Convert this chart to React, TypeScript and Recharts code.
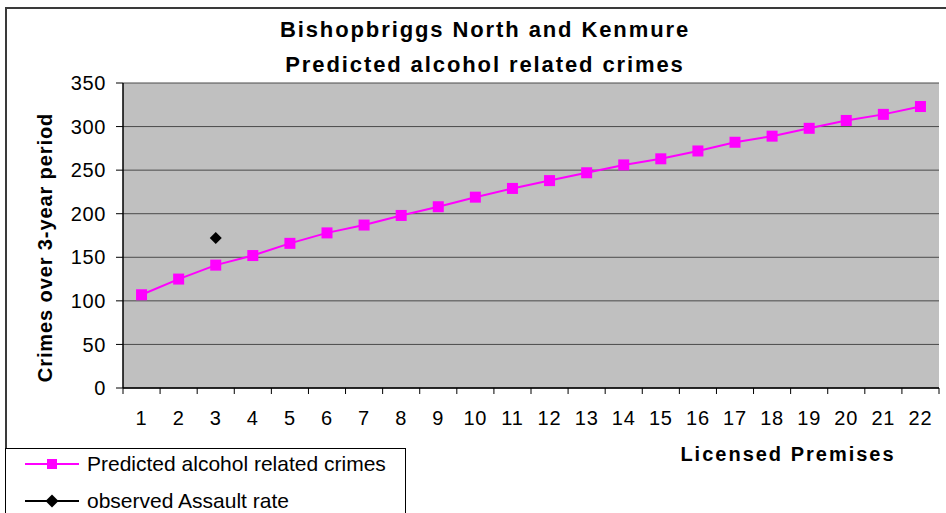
import { CartesianGrid, Legend, Line, LineChart, XAxis, YAxis } from "recharts";

const premises = ["1", "2", "3", "4", "5", "6", "7", "8", "9", "10", "11", "12", "13", "14", "15", "16", "17", "18", "19", "20", "21", "22"];
const predicted = [107, 125, 141, 152, 166, 178, 187, 198, 208, 219, 229, 238, 247, 256, 263, 272, 282, 289, 298, 307, 314, 323];
const observed = [null, null, 172, null, null, null, null, null, null, null, null, null, null, null, null, null, null, null, null, null, null, null];
const yTicks = [0, 50, 100, 150, 200, 250, 300, 350];

const W = 946;
const H = 513;
const FONT = "'Liberation Sans', Arial, sans-serif";
const PLOT_W = 816;
const HALF_BAND = PLOT_W / premises.length / 2;

const data = premises.map((p, i) => ({ premises: p, predicted: predicted[i], observed: observed[i] }));

function XTick(props: any) {
  const { x, y, payload, index } = props;
  const axisY = y - 6;
  return (
    <g>
      <line x1={x - HALF_BAND} x2={x - HALF_BAND} y1={axisY} y2={axisY + 6} stroke="#000" />
      {index === premises.length - 1 && (
        <line x1={x + HALF_BAND} x2={x + HALF_BAND} y1={axisY} y2={axisY + 6} stroke="#000" />
      )}
      <text x={x} y={axisY + 37} textAnchor="middle" fontSize={20} letterSpacing={0.8} fill="#000" fontFamily={FONT}>
        {payload.value}
      </text>
    </g>
  );
}

function Square(props: any) {
  const { cx, cy, index } = props;
  if (cx == null || cy == null) return <g key={index} />;
  return <rect key={index} x={cx - 5.5} y={cy - 5.5} width={11} height={11} fill="#FF00FF" />;
}

function Diamond(props: any) {
  const { cx, cy, index } = props;
  if (cx == null || cy == null) return <g key={index} />;
  return <path key={index} d={`M${cx},${cy - 6}L${cx + 6},${cy}L${cx},${cy + 6}L${cx - 6},${cy}Z`} fill="#000" />;
}

function LegendBox() {
  const row = (top: number, label: string, color: string, marker: any) => (
    <div style={{ position: "absolute", left: 0, top, height: 30, display: "flex", alignItems: "center" }}>
      <svg width={60} height={20} style={{ marginLeft: 17, marginRight: 4 }}>
        <line x1={2} x2={56} y1={10} y2={10} stroke={color} strokeWidth={2} />
        {marker}
      </svg>
      <span style={{ fontSize: 21, color: "#000", whiteSpace: "nowrap" }}>{label}</span>
    </div>
  );
  return (
    <div
      style={{
        position: "relative",
        boxSizing: "border-box",
        width: 401,
        height: 70,
        borderTop: "1px solid #000",
        borderLeft: "1px solid #000",
        borderRight: "1px solid #000",
        background: "#fff",
        fontFamily: FONT,
      }}
    >
      {row(0, "Predicted alcohol related crimes", "#FF00FF", <rect x={24} y={5} width={10} height={10} fill="#FF00FF" />)}
      {row(37, "observed Assault rate", "#000", <path d="M29,3.5L35.5,10L29,16.5L22.5,10Z" fill="#000" />)}
    </div>
  );
}

export default function App() {
  return (
    <div style={{ position: "absolute", left: 0, top: 0, width: W, height: H, overflow: "hidden", background: "#fff", fontFamily: FONT }}>
      <div style={{ position: "absolute", left: 5, top: 7, width: W, height: H, border: "2px solid #3a3a3a" }} />
      <div
        style={{
          position: "absolute",
          left: 0,
          width: W,
          top: 12,
          textAlign: "center",
          fontSize: 22,
          fontWeight: "bold",
          letterSpacing: 1.9,
          lineHeight: "35px",
          paddingLeft: 24,
          boxSizing: "border-box",
        }}
      >
        <div>Bishopbriggs North and Kenmure</div>
        <div>Predicted alcohol related crimes</div>
      </div>
      <LineChart width={W} height={H} data={data} margin={{ top: 83, right: 7, bottom: 0, left: 0 }}>
        <CartesianGrid fill="#C0C0C0" stroke="#4a4a4a" vertical={false} />
        <XAxis
          dataKey="premises"
          scale="band"
          height={55}
          interval={0}
          tickSize={6}
          tickMargin={0}
          tickLine={false}
          axisLine={{ stroke: "#000", strokeWidth: 1.5 }}
          tick={<XTick />}
          label={{
            content: (p: any) => {
              const vb = p.viewBox;
              return (
                <text
                  x={vb.x + vb.width - 151}
                  y={vb.y + 73}
                  textAnchor="middle"
                  fontSize={20}
                  fontWeight="bold"
                  letterSpacing={2}
                  fontFamily={FONT}
                  fill="#000"
                >
                  Licensed Premises
                </text>
              );
            },
          }}
        />
        <XAxis xAxisId="top" orientation="top" height={0} tick={false} tickLine={false} axisLine={{ stroke: "#8a8a8a", strokeWidth: 2 }} />
        <YAxis
          width={123}
          domain={[0, 350]}
          ticks={yTicks}
          interval={0}
          tickSize={7}
          tickMargin={10}
          axisLine={{ stroke: "#000", strokeWidth: 1.5 }}
          tickLine={{ stroke: "#000" }}
          tick={{ fontSize: 20, fill: "#000", fontFamily: FONT, letterSpacing: 0.6 }}
          label={{
            content: (p: any) => {
              const vb = p.viewBox;
              const cx = 45;
              const cy = vb.y + vb.height / 2 + 12;
              return (
                <text
                  x={cx}
                  y={cy}
                  transform={`rotate(-90 ${cx} ${cy})`}
                  textAnchor="middle"
                  dominantBaseline="central"
                  fontSize={20}
                  fontWeight="bold"
                  letterSpacing={0.9}
                  fontFamily={FONT}
                  fill="#000"
                >
                  Crimes over 3-year period
                </text>
              );
            },
          }}
        />
        <YAxis yAxisId="right" orientation="right" width={0} tick={false} tickLine={false} axisLine={{ stroke: "#8a8a8a", strokeWidth: 2 }} />
        <Legend
          content={() => <LegendBox />}
          wrapperStyle={{ left: 5, top: 448, bottom: "auto", width: 401, height: 70 }}
        />
        <Line
          dataKey="predicted"
          stroke="#FF00FF"
          strokeWidth={2}
          dot={<Square />}
          activeDot={false}
          isAnimationActive={false}
        />
        <Line
          dataKey="observed"
          stroke="none"
          dot={<Diamond />}
          activeDot={false}
          connectNulls={false}
          isAnimationActive={false}
        />
      </LineChart>
    </div>
  );
}
